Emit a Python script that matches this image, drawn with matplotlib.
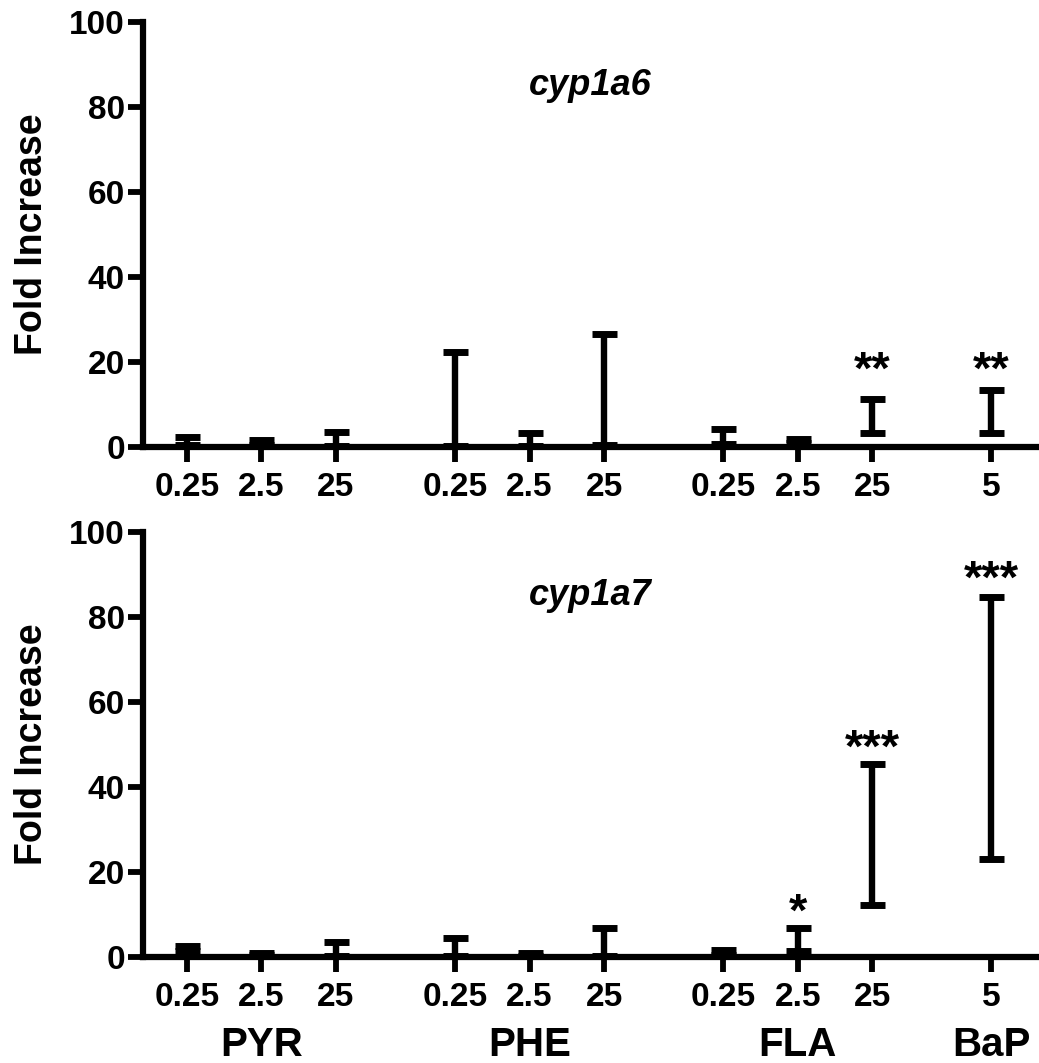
import matplotlib
matplotlib.use('Agg')
import matplotlib.pyplot as plt
from matplotlib import transforms

plt.rcParams['font.family'] = ['Liberation Sans', 'DejaVu Sans']
plt.rcParams['font.weight'] = 'bold'

groups = ['PYR', 'PHE', 'FLA', 'BaP']
group_sizes = [3, 3, 3, 1]
conc_labels = ['0.25', '2.5', '25', '0.25', '2.5', '25', '0.25', '2.5', '25', '5']

# range (min - max) of fold increase
cyp1a6_low = [0.5, 0.5, 0.3, 0.3, 0.3, 0.5, 0.6, 1.0, 3.3, 3.3]
cyp1a6_high = [2.4, 1.6, 3.6, 22.4, 3.4, 26.7, 4.3, 2.0, 11.3, 13.4]
cyp1a6_stars = ['', '', '', '', '', '', '', '', '**', '**']
cyp1a6_star_y = [0, 0, 0, 0, 0, 0, 0, 0, 19.8, 19.8]

cyp1a7_low = [1.5, 0.4, 0.3, 0.3, 0.3, 0.3, 0.4, 1.4, 12.2, 23.1]
cyp1a7_high = [2.6, 1.0, 3.5, 4.5, 1.0, 6.8, 1.7, 6.8, 45.3, 84.7]
cyp1a7_stars = ['', '', '', '', '', '', '', '*', '***', '***']
cyp1a7_star_y = [0, 0, 0, 0, 0, 0, 0, 12.2, 50.8, 90.6]

# x positions: unit spacing inside a group, wider gap between groups
gap = 1.6
xpos = []
group_centers = []
start = 0.0
for n in group_sizes:
    xs = [start + i for i in range(n)]
    xpos += xs
    group_centers.append(xs[len(xs) // 2])
    start = xs[-1] + gap

W, H = 1039, 1063
fig = plt.figure(figsize=(W / 100, H / 100), dpi=100)
ax_top = fig.add_axes([143 / W, 1 - 447 / H, 1 - 143 / W, 425 / H])
ax_bot = fig.add_axes([143 / W, 1 - 957 / H, 1 - 143 / W, 425 / H])


def draw_panel(ax, low, high, stars, star_y, title):
    mid = [(l + h) / 2 for l, h in zip(low, high)]
    err = [[m - l for m, l in zip(mid, low)], [h - m for h, m in zip(high, mid)]]
    ax.errorbar(xpos, mid, yerr=err, fmt='none', ecolor='black', elinewidth=4.6,
                capsize=9, capthick=5, zorder=3, clip_on=False)
    # star glyphs sit high in the em box; shift so y is the glyph centre
    star_tr = transforms.offset_copy(ax.transData, fig=fig, y=-15, units='points')
    for x, s, y in zip(xpos, stars, star_y):
        if s:
            ax.text(x, y, s, transform=star_tr, ha='center', va='baseline',
                    fontsize=34, fontweight='bold')
    ax.text(5.42, 82.8, title, ha='center', va='baseline', fontsize=26,
            fontweight='bold', style='italic')
    ax.set_xlim(-0.59, 11.44)
    ax.set_ylim(0, 100)
    ax.set_yticks([0, 20, 40, 60, 80, 100])
    ax.set_xticks(xpos)
    ax.set_xticklabels(conc_labels)
    ax.spines['top'].set_visible(False)
    ax.spines['right'].set_visible(False)
    for side in ['left', 'bottom']:
        ax.spines[side].set_linewidth(4.5)
    ax.tick_params(axis='both', length=11, width=4.2, labelsize=24, direction='out')
    ax.tick_params(axis='x', pad=7)
    ax.tick_params(axis='y', pad=2)
    ax.set_ylabel('Fold Increase', fontsize=27, fontweight='bold', labelpad=14)


draw_panel(ax_top, cyp1a6_low, cyp1a6_high, cyp1a6_stars, cyp1a6_star_y, 'cyp1a6')
draw_panel(ax_bot, cyp1a7_low, cyp1a7_high, cyp1a7_stars, cyp1a7_star_y, 'cyp1a7')

grp_tr = transforms.blended_transform_factory(ax_bot.transData, ax_bot.transAxes)
for g, c in zip(groups, group_centers):
    ax_bot.text(c, -0.232, g, transform=grp_tr, ha='center', va='baseline',
                fontsize=29, fontweight='bold')

fig.savefig('out.png', dpi=100)
